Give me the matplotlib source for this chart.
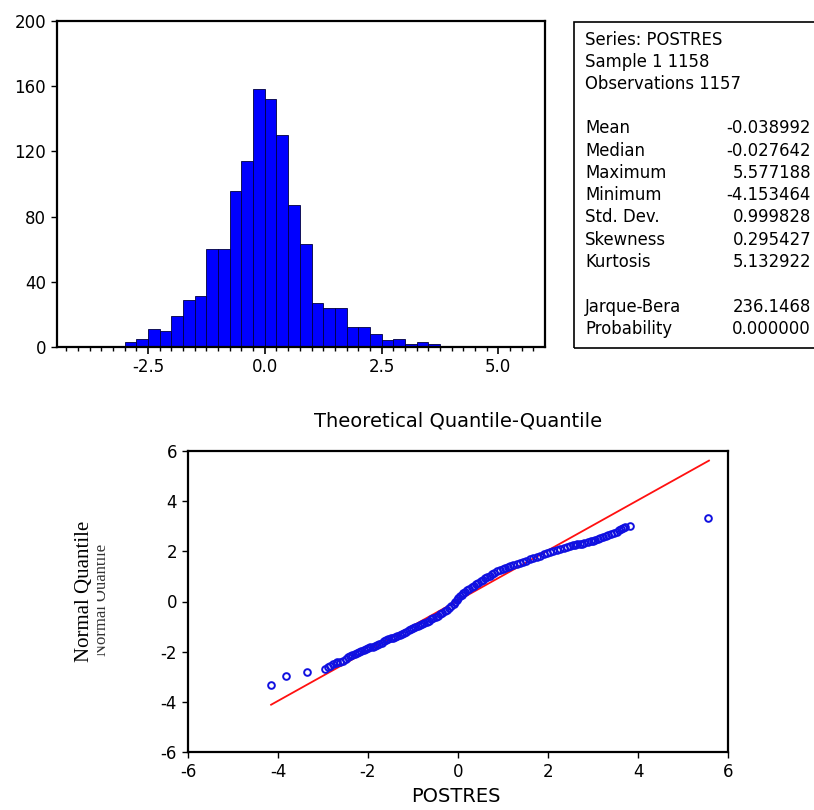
import matplotlib
matplotlib.use("Agg")
import matplotlib.pyplot as plt
from matplotlib.ticker import FixedLocator
from matplotlib.patches import Rectangle
from matplotlib.transforms import Bbox

plt.rcParams["axes.unicode_minus"] = False

# ---------------- data ----------------
bin_left = [-3.0, -2.75, -2.5, -2.25, -2.0, -1.75, -1.5, -1.25, -1.0, -0.75, -0.5, -0.25,
            0.0, 0.25, 0.5, 0.75, 1.0, 1.25, 1.5, 1.75, 2.0, 2.25, 2.5, 2.75, 3.0, 3.25, 3.5]
bin_width = 0.25
counts = [3, 5, 11, 10, 19, 29, 31, 60, 60, 96, 114, 158,
          152, 130, 87, 63, 27, 24, 24, 12, 12, 8, 4, 5, 2, 3, 2]

hist_xticks = [-2.5, 0.0, 2.5, 5.0]
hist_xticklabels = ["-2.5", "0.0", "2.5", "5.0"]
hist_yticks = [0, 40, 80, 120, 160, 200]

header_lines = ["Series: POSTRES", "Sample 1 1158", "Observations 1157"]
stat_names = ["Mean", "Median", "Maximum", "Minimum", "Std. Dev.", "Skewness", "Kurtosis"]
stat_values = [-0.038992, -0.027642, 5.577188, -4.153464, 0.999828, 0.295427, 5.132922]
test_names = ["Jarque-Bera", "Probability"]
test_values = ["236.1468", "0.000000"]

# Q-Q points: POSTRES (x) and normal quantile (y)
qq_x = [-4.15, -3.82, -3.36, -2.96, -2.90, -2.85, -2.78, -2.72, -2.68, -2.62, -2.55,
        -2.48, -2.44, -2.40, -2.36, -2.30, -2.25, -2.20, -2.15, -2.10, -2.05, -2.00,
        -1.95, -1.90, -1.85, -1.80, -1.75, -1.70, -1.65, -1.60, -1.55, -1.50, -1.45,
        -1.40, -1.35, -1.30, -1.25, -1.20, -1.15, -1.10, -1.05, -1.00, -0.95, -0.90,
        -0.85, -0.80, -0.75, -0.70, -0.65, -0.60, -0.55, -0.50, -0.45, -0.40, -0.35,
        -0.30, -0.25, -0.20, -0.15, -0.10, -0.06, -0.03, 0.01, 0.05, 0.08, 0.12, 0.16,
        0.20, 0.25, 0.30, 0.35, 0.40, 0.45, 0.50, 0.55, 0.60, 0.65, 0.70, 0.75, 0.80,
        0.86, 0.93, 0.99, 1.05, 1.10, 1.15, 1.22, 1.30, 1.37, 1.45, 1.52, 1.60, 1.67,
        1.75, 1.82, 1.90, 1.97, 2.04, 2.11, 2.19, 2.27, 2.35, 2.42, 2.49, 2.55, 2.60,
        2.65, 2.70, 2.75, 2.80, 2.88, 2.95, 3.00, 3.05, 3.10, 3.16, 3.22, 3.28, 3.34,
        3.40, 3.47, 3.53, 3.58, 3.62, 3.67, 3.72, 3.82, 5.55]
qq_y = [-3.32, -2.99, -2.83, -2.70, -2.62, -2.58, -2.50, -2.45, -2.42, -2.40, -2.36,
        -2.30, -2.22, -2.16, -2.12, -2.10, -2.07, -2.03, -1.98, -1.94, -1.90, -1.87,
        -1.83, -1.80, -1.76, -1.72, -1.68, -1.64, -1.59, -1.55, -1.51, -1.47, -1.44,
        -1.40, -1.36, -1.32, -1.29, -1.25, -1.20, -1.15, -1.10, -1.05, -1.01, -0.97,
        -0.93, -0.88, -0.84, -0.80, -0.76, -0.71, -0.67, -0.62, -0.56, -0.50, -0.44,
        -0.38, -0.32, -0.25, -0.17, -0.08, -0.01, 0.06, 0.13, 0.20, 0.27, 0.33, 0.39,
        0.45, 0.51, 0.57, 0.63, 0.68, 0.74, 0.80, 0.86, 0.92, 0.98, 1.03, 1.09, 1.14,
        1.20, 1.26, 1.31, 1.35, 1.39, 1.42, 1.46, 1.50, 1.54, 1.58, 1.63, 1.68, 1.72,
        1.76, 1.82, 1.88, 1.94, 1.99, 2.02, 2.06, 2.11, 2.15, 2.19, 2.22, 2.24, 2.26,
        2.28, 2.30, 2.31, 2.33, 2.37, 2.40, 2.43, 2.45, 2.48, 2.52, 2.56, 2.60, 2.64,
        2.68, 2.73, 2.79, 2.84, 2.88, 2.93, 2.97, 3.01, 3.34]
qq_ticks = [-6, -4, -2, 0, 2, 4, 6]

# ---------------- figure ----------------
W, H = 814, 810
fig = plt.figure(figsize=(W / 100, H / 100), dpi=100)
fig.patch.set_facecolor("white")
SANS = "DejaVu Sans"

def fx(px):
    return px / W

def fy(py):
    return 1 - py / H

# Histogram
ax1 = fig.add_axes([fx(57), fy(347), (545 - 57) / W, (347 - 21) / H])
ax1.bar(bin_left, counts, width=bin_width, align="edge", color="#0000ff",
        edgecolor="#000040", linewidth=0.6)
ax1.set_xlim(-4.45, 6.0)
ax1.set_ylim(0, 200)
ax1.set_xticks(hist_xticks)
ax1.set_xticklabels(hist_xticklabels)
ax1.xaxis.set_minor_locator(FixedLocator([v * 0.25 for v in range(-17, 24)]))
ax1.set_yticks(hist_yticks)
for s in ax1.spines.values():
    s.set_linewidth(1.6)
ax1.tick_params(axis="x", which="major", direction="out", length=5, width=1.2,
                pad=3, labelsize=12)
ax1.tick_params(axis="x", which="minor", direction="out", length=3, width=1.0)
ax1.tick_params(axis="y", which="major", direction="out", length=4, width=1.0,
                pad=4, labelsize=12)
for lab in ax1.get_xticklabels() + ax1.get_yticklabels():
    lab.set_family(SANS)

# Stats box
box = Rectangle((fx(574), fy(348)), 1.0, (348 - 21.5) / H, transform=fig.transFigure,
                fill=False, edgecolor="black", linewidth=1.2)
fig.add_artist(box)
fs = 11.9
ys_head = [40, 62, 84]
for t, y in zip(header_lines, ys_head):
    fig.text(fx(585), fy(y), t, ha="left", va="center", fontsize=fs, family=SANS)
ys_stats = [128, 150.5, 172.8, 195, 217.3, 239.6, 261.9]
for n, v, y in zip(stat_names, stat_values, ys_stats):
    fig.text(fx(585), fy(y), n, ha="left", va="center", fontsize=fs, family=SANS)
    fig.text(fx(811), fy(y), f"{v:.6f}", ha="right", va="center", fontsize=fs, family=SANS)
ys_test = [307, 329]
for n, v, y in zip(test_names, test_values, ys_test):
    fig.text(fx(585), fy(y), n, ha="left", va="center", fontsize=fs, family=SANS)
    fig.text(fx(811), fy(y), v, ha="right", va="center", fontsize=fs, family=SANS)

# Q-Q plot
ax2 = fig.add_axes([fx(188), fy(752), (728 - 188) / W, (752 - 451) / H])
ax2.set_xlim(-6, 6)
ax2.set_ylim(-6, 6)
mean, sd = stat_values[0], stat_values[4]
lx = [stat_values[3], stat_values[2]]
ly = [(v - mean) / sd for v in lx]
ax2.plot(lx, ly, color="#ff1010", linewidth=1.3, zorder=2)
ax2.plot(qq_x, qq_y, linestyle="none", marker="o", markersize=4.8, markerfacecolor="none",
         markeredgecolor="#1010e0", markeredgewidth=1.4, zorder=3)
ax2.set_xticks(qq_ticks)
ax2.set_yticks(qq_ticks)
for s in ax2.spines.values():
    s.set_linewidth(1.6)
ax2.tick_params(axis="both", direction="out", length=4, width=1.0, pad=4, labelsize=12)
for lab in ax2.get_xticklabels() + ax2.get_yticklabels():
    lab.set_family(SANS)

fig.text(fx(458), fy(421), "Theoretical Quantile-Quantile", ha="center", va="center",
         fontsize=14, family=SANS)
fig.text(fx(456), fy(797), "POSTRES", ha="center", va="center", fontsize=14, family=SANS)
fig.text(fx(84), fy(591), "Normal Quantile", ha="center", va="center", rotation=90,
         fontsize=15, family="Liberation Serif")
ghost = fig.text(fx(101), fy(600), "Normal Quantile", ha="center", va="center", rotation=90,
                 fontsize=12, family="Liberation Serif", color="#333333")
ghost.set_clip_box(Bbox([[96.5, H - 665], [104.5, H - 535]]))
ghost.set_clip_on(True)

fig.savefig("out.png", dpi=100)
